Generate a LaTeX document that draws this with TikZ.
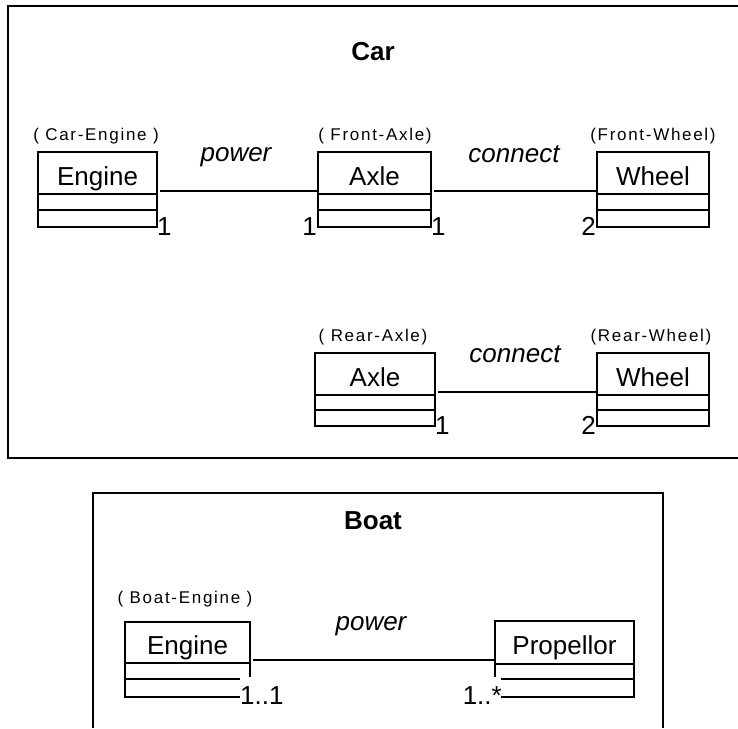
\documentclass[tikz,border=0pt]{standalone}
\usepackage{fontspec}
\setmainfont{Liberation Sans}
\newfontfamily\tagfont[LetterSpace=10]{Liberation Sans}
\begin{document}
\begin{tikzpicture}[x=1pt,y=-1pt,
  frame/.style={line width=2pt},
  classbox/.style={draw, line width=1.3pt, inner sep=0pt, outer sep=0pt,
    anchor=north west, font=\fontsize{26}{30}\selectfont,
    text height=26pt, text depth=2pt},
  part/.style={line width=1.3pt},
  assoc/.style={line width=1.3pt},
  mult/.style={font=\fontsize{26}{30}\selectfont, inner sep=0pt},
  role/.style={font=\fontsize{26}{30}\selectfont\itshape, inner sep=0pt, anchor=base},
  tag/.style={font=\fontsize{17}{20}\tagfont, inner sep=0pt, anchor=base},
  title/.style={font=\fontsize{26}{30}\selectfont\bfseries, inner sep=0pt, anchor=base}]
\useasboundingbox (0,0) rectangle (738,728);

% ---------- Car package ----------
\draw[frame] (738,6) -- (8,6) -- (8,458) -- (738,458);
\node[title] (cartitle) at (373,60) {Car};

% classes
\node[classbox, minimum width=119pt, minimum height=42pt] (ce) at (38,152) {Engine};
\node[classbox, minimum width=113pt, minimum height=42pt] (fa) at (318,152) {Axle};
\node[classbox, minimum width=112pt, minimum height=42pt] (fw) at (597,152) {Wheel};
\node[classbox, minimum width=120pt, minimum height=42pt] (ra) at (315,353) {Axle};
\node[classbox, minimum width=112pt, minimum height=42pt] (rw) at (597,353) {Wheel};

\foreach \c/\m/\b in {ce/16/33, fa/16/33, fw/16/33, ra/15/31, rw/15/31}{
  \draw[part] (\c.south west) -- ++(0,\b) -| (\c.south east);
  \draw[part] ([yshift=-\m pt]\c.south west) -- ([yshift=-\m pt]\c.south east);
}

% instance names
\node[tag] (tce) at (96,140) {( Car-Engine )};
\node[tag] (tfa) at (375,140) {( Front-Axle)};
\node[tag] (tfw) at (653,140) {(Front-Wheel)};
\node[tag] (tra) at (373,341) {( Rear-Axle)};
\node[tag] (trw) at (651,341) {(Rear-Wheel)};

% associations
\draw[assoc] ([xshift=3pt,yshift=3pt]ce.south east) -- ([yshift=3pt]fa.south west);
\draw[assoc] ([xshift=3pt,yshift=3pt]fa.south east) -- ([yshift=3pt]fw.south west);
\draw[assoc] ([xshift=3pt,yshift=3pt]ra.south east) -- ([yshift=3pt]rw.south west);
\node[role] (r1) at (236,161) {power};
\node[role] (r2) at (514,162) {connect};
\node[role] (r3) at (515,362) {connect};

% multiplicities
\node[mult, anchor=base west] (m1) at (157,235) {1};
\node[mult, anchor=base east] (m2) at (317,235) {1};
\node[mult, anchor=base west] (m3) at (431,235) {1};
\node[mult, anchor=base east] (m4) at (596,235) {2};
\node[mult, anchor=base west] (m5) at (435,434) {1};
\node[mult, anchor=base east] (m6) at (596,434) {2};

% ---------- Boat package ----------
\draw[frame] (93,728) -- (93,493) -- (663,493) -- (663,728);
\node[title] (boattitle) at (373,529) {Boat};

\node[classbox, minimum width=125pt, minimum height=41pt] (be) at (125,622) {Engine};
\node[classbox, minimum width=139pt, minimum height=43pt] (bp) at (495,621) {Propellor};

% compartments of the boat engine
\draw[part] (be.south east) -- ++(0,14);
\draw[part] (be.south west) -- ++(0,34) -- ++(115,0);
\draw[part] ([yshift=-16pt]be.south west) -- ++(115,0);
% compartments of the propellor
\draw[part] (bp.south west) -- ++(0,13);
\draw[part] (bp.south east) -- ++(0,33) -- ++(-133,0);
\draw[part] ([yshift=-15pt]bp.south east) -- ++(-133,0);

\node[tag] (tbe) at (185,603) {( Boat-Engine )};

% horizontal association between engine and propellor
\coordinate (bstart) at ([yshift=3pt]be.south east);
\draw[assoc] (bstart) ++(3,0) -- (bstart -| bp.west);
\node[role] (r4) at (371,630) {power};

\node[mult, anchor=base west] (m7) at (240,704) {1..1};
\node[mult, anchor=base east] (m8) at (502,704) {1..*};
\end{tikzpicture}
\end{document}
